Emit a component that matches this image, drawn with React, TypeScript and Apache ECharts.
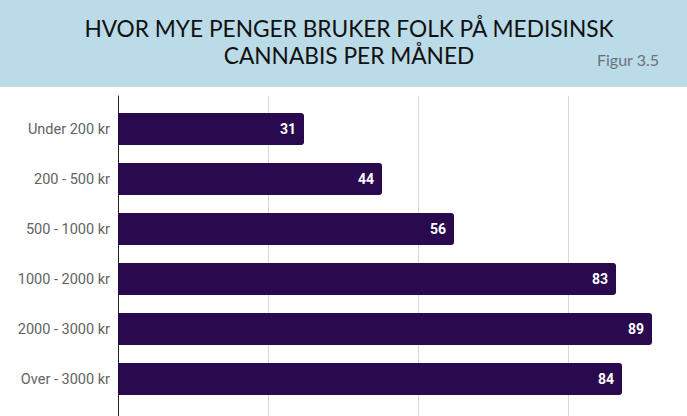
import React, { useEffect, useRef } from "react";
import * as echarts from "echarts";

const categories = [
  "Under 200 kr",
  "200 - 500 kr",
  "500 - 1000 kr",
  "1000 - 2000 kr",
  "2000 - 3000 kr",
  "Over - 3000 kr",
];
const values = [31, 44, 56, 83, 89, 84];
const titleLines = ["HVOR MYE PENGER BRUKER FOLK PÅ MEDISINSK", "CANNABIS PER MÅNED"];
const figureLabel = "Figur 3.5";

export default function App() {
  const ref = useRef<HTMLDivElement>(null);
  useEffect(() => {
    if (!ref.current) return;
    const chart = echarts.init(ref.current, null, { renderer: "svg" });
    chart.setOption({
      animation: false,
      backgroundColor: "#ffffff",
      graphic: [
        {
          type: "rect",
          left: 0,
          top: 0,
          shape: { width: 687, height: 87 },
          style: { fill: "#badbe7" },
          z: -1,
        },
      ],
      title: [
        {
          text: titleLines.join("\n"),
          left: 344,
          top: 10,
          textAlign: "center",
          textStyle: {
            fontFamily: "Lato",
            fontWeight: "normal",
            fontSize: 22.7,
            lineHeight: 27,
            color: "#111111",
          },
        },
        {
          text: figureLabel,
          left: 592,
          top: 46,
          textStyle: {
            fontFamily: "Lato",
            fontWeight: "normal",
            fontSize: 16,
            color: "#6b7378",
          },
        },
      ],
      grid: [
        { left: 118, top: 104, width: 600, height: 300, outerBoundsMode: "none", containLabel: false },
        { left: 118, top: 96, width: 600, height: 330, outerBoundsMode: "none", containLabel: false },
      ],
      xAxis: [
        {
          type: "value",
          gridIndex: 0,
          min: 0,
          max: 100,
          interval: 25,
          show: false,
        },
        {
          type: "value",
          gridIndex: 1,
          min: 0,
          max: 100,
          interval: 25,
          axisLine: { show: false },
          axisTick: { show: false },
          axisLabel: { show: false },
          splitLine: { show: true, lineStyle: { color: "#d6d6d6", width: 1 } },
        },
      ],
      yAxis: [
        {
          type: "category",
          gridIndex: 0,
          data: categories,
          inverse: true,
          axisLine: { show: false },
          axisTick: { show: false },
          axisLabel: {
            margin: 8,
            fontFamily: "Roboto",
            fontSize: 14.5,
            color: "#636363",
          },
        },
        {
          type: "value",
          gridIndex: 1,
          min: 0,
          max: 1,
          axisLine: { show: true, lineStyle: { color: "#222222", width: 1 } },
          axisTick: { show: false },
          axisLabel: { show: false },
          splitLine: { show: false },
        },
      ],
      series: [
        {
          type: "bar",
          xAxisIndex: 0,
          yAxisIndex: 0,
          data: values,
          barWidth: 32,
          itemStyle: { color: "#2a0a4e", borderRadius: [0, 3, 3, 0] },
          label: {
            show: true,
            position: "insideRight",
            distance: 8,
            color: "#ffffff",
            fontFamily: "Roboto",
            fontWeight: "bold",
            fontSize: 14,
          },
        },
      ],
    });
    return () => chart.dispose();
  }, []);
  return (
    <div
      ref={ref}
      style={{ position: "fixed", left: 0, top: 0, width: 687, height: 416 }}
    />
  );
}
